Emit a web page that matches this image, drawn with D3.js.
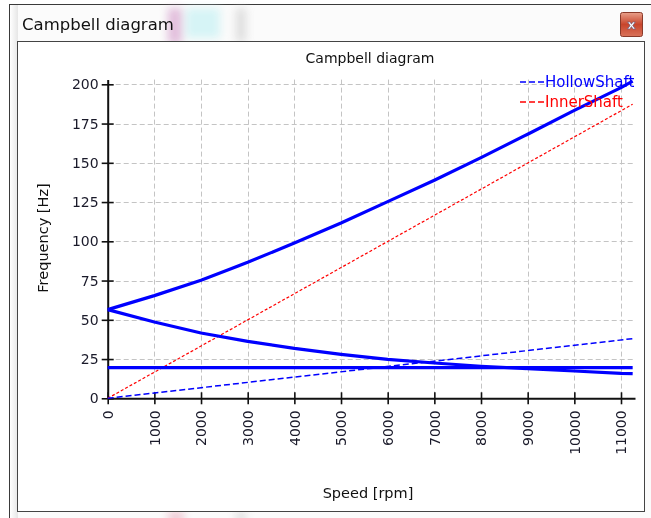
<!DOCTYPE html>
<html>
<head>
<meta charset="utf-8">
<script src="https://cdn.jsdelivr.net/npm/d3@7"></script>
<style>
  html, body { margin: 0; padding: 0; background: #ffffff; }
  svg { display: block; font-family: "DejaVu Sans", sans-serif; }
</style>
</head>
<body>
<svg id="chart" width="651" height="518"></svg>
<script>
// Rotor speeds (rpm) at which the whirl frequencies were computed
const speeds = [0, 1000, 2000, 3000, 4000, 5000, 6000, 7000, 8000, 9000, 10000, 11000, 11250];
// Forward whirl mode (Hz)
const forwardWhirl = [56.5, 65.4, 75.2, 86.6, 98.9, 111.7, 125.3, 138.9, 153.3, 168.2, 183.4, 197.9, 202.0];
// Backward whirl mode (Hz)
const backwardWhirl = [56.5, 48.6, 41.6, 36.3, 31.8, 28.0, 24.8, 22.5, 20.4, 18.9, 17.4, 15.9, 15.7];
// Non-gyroscopic mode (Hz)
const flatMode = [19.6, 19.6, 19.6, 19.6, 19.6, 19.6, 19.6, 19.6, 19.6, 19.6, 19.6, 19.6, 19.6];
// Shaft excitation lines: speed (rpm) and frequency (Hz)
const excitationSpeeds = [0, 11250];
const hollowShaft = [0, 38.0];
const innerShaft = [0, 187.3];
// Axis ticks
const xTicks = [0, 1000, 2000, 3000, 4000, 5000, 6000, 7000, 8000, 9000, 10000, 11000];
const yTicks = [0, 25, 50, 75, 100, 125, 150, 175, 200];
const legendNames = ["HollowShaft", "InnerShaft"];
const legendColors = ["#0000ff", "#ff0000"];

const svg = d3.select("#chart");

// ---- window frame ----
const defs = svg.append("defs");
const blur = defs.append("filter").attr("id", "soft").attr("x", "-50%").attr("y", "-50%").attr("width", "200%").attr("height", "200%");
blur.append("feGaussianBlur").attr("stdDeviation", 4);
const side = defs.append("linearGradient").attr("id", "frameGrad").attr("x1", 0).attr("x2", 1).attr("y1", 0).attr("y2", 0);
side.append("stop").attr("offset", "0%").attr("stop-color", "#ffffff");
side.append("stop").attr("offset", "100%").attr("stop-color", "#e6e6e6");
const btn = defs.append("linearGradient").attr("id", "btnGrad").attr("x1", 0).attr("x2", 0).attr("y1", 0).attr("y2", 1);
btn.append("stop").attr("offset", "0%").attr("stop-color", "#e8a08a");
btn.append("stop").attr("offset", "50%").attr("stop-color", "#c8452c");
btn.append("stop").attr("offset", "100%").attr("stop-color", "#d9735a");

svg.append("rect").attr("x", 9.5).attr("y", 4.5).attr("width", 660).attr("height", 530)
  .attr("fill", "#fbfbfb").attr("stroke", "#3a3a3a");
svg.append("rect").attr("x", 10).attr("y", 5).attr("width", 8).attr("height", 520).attr("fill", "url(#frameGrad)");

// soft glass tint in the title bar
const tints = [
  {x: 168, y: 8, w: 14, h: 36, c: "#d8a8d0"},
  {x: 186, y: 8, w: 34, h: 30, c: "#c9f1f4"},
  {x: 236, y: 8, w: 10, h: 34, c: "#d4d4d4"},
  {x: 168, y: 512, w: 16, h: 10, c: "#e8b0c0"},
  {x: 236, y: 512, w: 10, h: 10, c: "#d0d0d0"}
];
svg.append("g").attr("filter", "url(#soft)").selectAll("rect").data(tints).join("rect")
  .attr("x", d => d.x).attr("y", d => d.y).attr("width", d => d.w).attr("height", d => d.h)
  .attr("fill", d => d.c).attr("opacity", 0.75);

svg.append("text").attr("x", 22).attr("y", 30).attr("font-size", 16.5).attr("fill", "#111")
  .text("Campbell diagram");

// close button
svg.append("rect").attr("x", 620.5).attr("y", 12.5).attr("width", 22).attr("height", 24).attr("rx", 2)
  .attr("fill", "url(#btnGrad)").attr("stroke", "#8a3a2a");
svg.append("text").attr("x", 631.5).attr("y", 29).attr("text-anchor", "middle")
  .attr("font-size", 13).attr("font-weight", "bold").attr("fill", "#ffffff")
  .attr("stroke", "#6a5a7a").attr("stroke-width", 0.6).text("x");

// chart panel
svg.append("rect").attr("x", 17.5).attr("y", 41.5).attr("width", 627).attr("height", 470)
  .attr("fill", "#ffffff").attr("stroke", "#444444");

// ---- plot ----
const x = d3.scaleLinear().domain([0, 11300]).range([107.7, 635]);
const y = d3.scaleLinear().domain([0, 203]).range([398.3, 79.6]);

svg.append("text").attr("x", 370).attr("y", 63).attr("text-anchor", "middle")
  .attr("font-size", 14).attr("fill", "#111").text("Campbell diagram");

// grid
const grid = svg.append("g").attr("stroke", "#c4c4c4").attr("stroke-width", 1).attr("stroke-dasharray", "5,3");
grid.selectAll("line.v").data(xTicks.filter(d => d > 0)).join("line").attr("class", "v")
  .attr("x1", d => Math.round(x(d)) + 0.5).attr("x2", d => Math.round(x(d)) + 0.5)
  .attr("y1", y(203)).attr("y2", y(0));
grid.selectAll("line.h").data(yTicks.filter(d => d > 0)).join("line").attr("class", "h")
  .attr("y1", d => Math.round(y(d)) + 0.5).attr("y2", d => Math.round(y(d)) + 0.5)
  .attr("x1", x(0)).attr("x2", x(11300));

// axes with ticks that cross the axis line
const xAxis = svg.append("g").attr("transform", `translate(0,${y(0)})`)
  .call(d3.axisBottom(x).tickValues(xTicks).tickFormat(d3.format("d")).tickSize(6).tickSizeOuter(0));
xAxis.select(".domain").attr("stroke", "#111").attr("stroke-width", 2);
xAxis.selectAll(".tick line").attr("y1", -6).attr("stroke", "#111").attr("stroke-width", 1.6);
xAxis.selectAll(".tick text")
  .attr("font-family", "DejaVu Sans, sans-serif").attr("font-size", 14).attr("fill", "#1a1a2a")
  .attr("transform", "rotate(-90)").attr("text-anchor", "end")
  .attr("x", -12).attr("y", 0).attr("dy", "0.35em");

const yAxis = svg.append("g").attr("transform", `translate(${x(0)},0)`)
  .call(d3.axisLeft(y).tickValues(yTicks).tickSize(6).tickSizeOuter(0));
yAxis.select(".domain").attr("stroke", "#111").attr("stroke-width", 2);
yAxis.selectAll(".tick line").attr("x1", 6).attr("x2", -6).attr("stroke", "#111").attr("stroke-width", 1.6);
yAxis.selectAll(".tick text")
  .attr("font-family", "DejaVu Sans, sans-serif").attr("font-size", 14).attr("fill", "#1a1a2a")
  .attr("x", -9);

// axis titles
svg.append("text").attr("x", 368).attr("y", 498).attr("text-anchor", "middle")
  .attr("font-size", 14.5).attr("fill", "#111").text("Speed [rpm]");
svg.append("text").attr("transform", "translate(48,238) rotate(-90)").attr("text-anchor", "middle")
  .attr("font-size", 14.5).attr("fill", "#111").text("Frequency [Hz]");

// ---- series ----
const line = d3.line().x(d => x(d[0])).y(d => y(d[1]));
const zipped = (xs, ys) => xs.map((v, i) => [v, ys[i]]);

const series = svg.append("g").attr("fill", "none");
series.append("path").attr("d", line(zipped(excitationSpeeds, innerShaft)))
  .attr("stroke", "#ff0000").attr("stroke-width", 1.2).attr("stroke-dasharray", "3,2");
series.append("path").attr("d", line(zipped(excitationSpeeds, hollowShaft)))
  .attr("stroke", "#0000ff").attr("stroke-width", 1.5).attr("stroke-dasharray", "6,3");
[flatMode, backwardWhirl, forwardWhirl].forEach(vals => {
  series.append("path").attr("d", line(zipped(speeds, vals)))
    .attr("stroke", "#0000ff").attr("stroke-width", 3.2).attr("stroke-linejoin", "round");
});

// legend
const legend = svg.append("g");
legendNames.forEach((name, i) => {
  const ly = 82 + i * 20;
  legend.append("line").attr("x1", 520).attr("x2", 545).attr("y1", ly).attr("y2", ly)
    .attr("stroke", legendColors[i]).attr("stroke-width", 1.3).attr("stroke-dasharray", "6,3");
  legend.append("text").attr("x", 545).attr("y", ly).attr("dy", "0.35em")
    .attr("font-size", 15).attr("fill", legendColors[i]).text(name);
});
</script>
</body>
</html>
